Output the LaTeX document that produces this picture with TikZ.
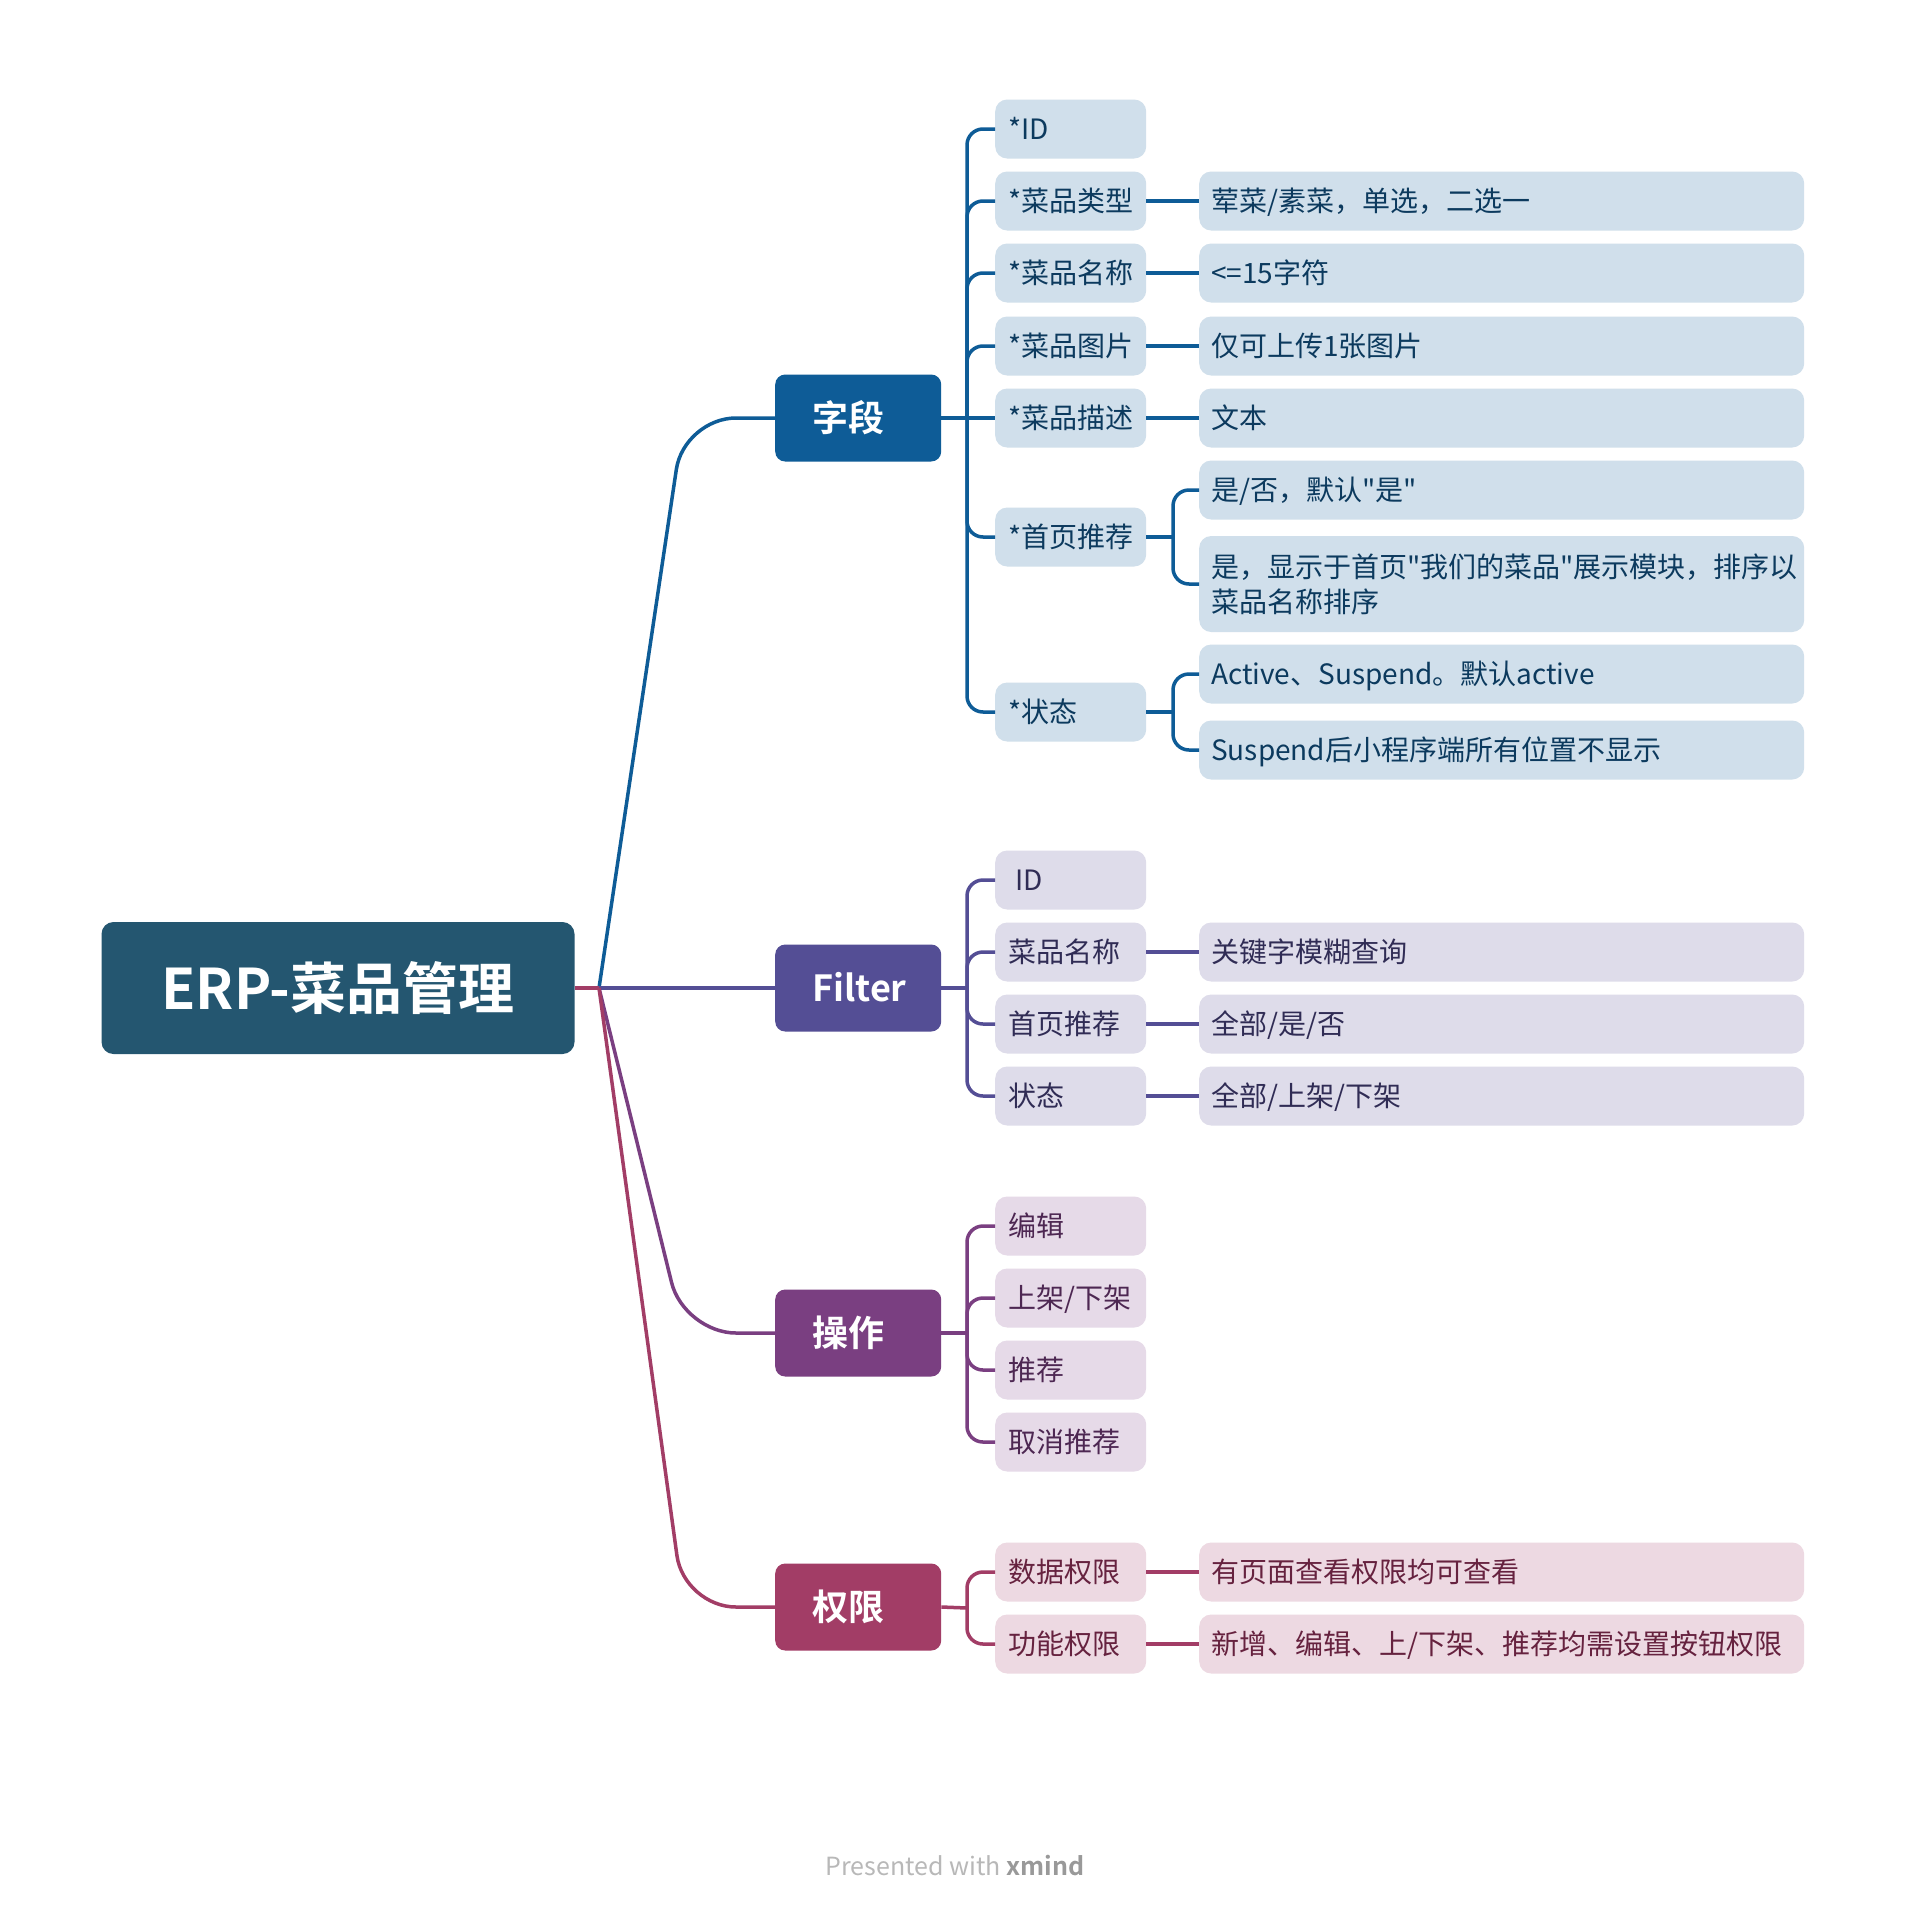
\documentclass[tikz,border=0pt]{standalone}
\usepackage{fontspec}
\setmainfont{Noto Sans CJK SC}[BoldFont={Noto Sans CJK SC Bold}]
\newfontfamily\plainqf{Noto Sans CJK SC}
\newcommand\sdq{{\plainqf\symbol{34}}}
\definecolor{rootc}{HTML}{245670}
\definecolor{ca}{HTML}{0E5C97}
\definecolor{cb}{HTML}{544E95}
\definecolor{cc}{HTML}{7A3F81}
\definecolor{cd}{HTML}{A23D66}
\definecolor{fa}{HTML}{D0DFEB}
\definecolor{fb}{HTML}{DEDCEA}
\definecolor{fc}{HTML}{E6DAE8}
\definecolor{fd}{HTML}{EDD9E2}
\definecolor{ta}{HTML}{0C3A5E}
\definecolor{tb}{HTML}{302C55}
\definecolor{tc}{HTML}{4D2752}
\definecolor{td}{HTML}{66223F}
\tikzset{
  rootbox/.style={fill=rootc, rounded corners=12pt, minimum width=473pt, minimum height=132pt,
    inner sep=0pt, text=white, font=\fontsize{56}{60}\selectfont\bfseries, text height=42.5pt, text depth=0pt},
  mainbox/.style={rounded corners=10pt, minimum height=87pt, minimum width=166pt, text width=92pt,
    inner xsep=37pt, inner ysep=0pt, align=left, anchor=west, text=white,
    font=\fontsize{36}{40}\selectfont\bfseries, text height=27pt, text depth=0pt},
  lvtwo/.style={rounded corners=12pt, minimum height=59pt, minimum width=151pt, text width=125pt,
    inner xsep=13pt, inner ysep=0pt, align=left, anchor=west,
    font=\fontsize{28}{35}\selectfont, text height=21pt, text depth=0pt},
  lvthree/.style={lvtwo, minimum width=605pt, text width=581pt, inner xsep=12pt},
  ga/.style={fill=fa, text=ta}, gb/.style={fill=fb, text=tb},
  gc/.style={fill=fc, text=tc}, gd/.style={fill=fd, text=td},
  conn/.style={line width=3.5pt},
}
\begin{document}
\begin{tikzpicture}[x=1pt,y=-1pt]
\useasboundingbox (0,0) rectangle (1906,1914);
\fill[white] (0,0) rectangle (1906,1914);

% root and main
\node[rootbox] (root) at (338,988) {ERP-菜品管理};
\node[mainbox, fill=ca] (A) at (775,418) {字段};
\node[mainbox, fill=cb] (B) at (775,988) {Filter};
\node[mainbox, fill=cc] (C) at (775,1333) {操作};
\node[mainbox, fill=cd] (D) at (775,1607) {权限};

% 字段 children
\node[lvtwo, ga] (A1) at (995,129) {*ID};
\node[lvtwo, ga] (A2) at (995,201) {*菜品类型};
\node[lvtwo, ga] (A3) at (995,273) {*菜品名称};
\node[lvtwo, ga] (A4) at (995,346) {*菜品图片};
\node[lvtwo, ga] (A5) at (995,418) {*菜品描述};
\node[lvtwo, ga] (A6) at (995,537) {*首页推荐};
\node[lvtwo, ga] (A7) at (995,712) {*状态};
\node[lvthree, ga] (A2x) at (1199,201) {荤菜/素菜，单选，二选一};
\node[lvthree, ga] (A3x) at (1199,273) {<=15字符};
\node[lvthree, ga] (A4x) at (1199,346) {仅可上传1张图片};
\node[lvthree, ga] (A5x) at (1199,418) {文本};
\node[lvthree, ga] (A6a) at (1199,490) {是/否，默认\sdq 是\sdq};
\node[lvthree, ga, text depth=35pt, minimum height=96pt] (A6b) at (1199,584) {是，显示于首页\sdq 我们的菜品\sdq 展示模块，排序以\\菜品名称排序};
\node[lvthree, ga] (A7a) at (1199,674) {Active、Suspend。默认active};
\node[lvthree, ga] (A7b) at (1199,750) {Suspend后小程序端所有位置不显示};

% Filter children
\node[lvtwo, gb] (B1) at (995,880) {\hspace*{7pt}ID};
\node[lvtwo, gb] (B2) at (995,952) {菜品名称};
\node[lvtwo, gb] (B3) at (995,1024) {首页推荐};
\node[lvtwo, gb] (B4) at (995,1096) {状态};
\node[lvthree, gb] (B2x) at (1199,952) {关键字模糊查询};
\node[lvthree, gb] (B3x) at (1199,1024) {全部/是/否};
\node[lvthree, gb] (B4x) at (1199,1096) {全部/上架/下架};

% 操作 children
\node[lvtwo, gc] (C1) at (995,1226) {编辑};
\node[lvtwo, gc] (C2) at (995,1298) {上架/下架};
\node[lvtwo, gc] (C3) at (995,1370) {推荐};
\node[lvtwo, gc] (C4) at (995,1442) {取消推荐};

% 权限 children
\node[lvtwo, gd] (D1) at (995,1572) {数据权限};
\node[lvtwo, gd] (D2) at (995,1644) {功能权限};
\node[lvthree, gd] (D1x) at (1199,1572) {有页面查看权限均可查看};
\node[lvthree, gd] (D2x) at (1199,1644) {新增、编辑、上/下架、推荐均需设置按钮权限};

% root to main connectors
\coordinate (rj) at (599,988);
\draw[conn, ca, rounded corners=52pt] (rj) -- (684,418) -- (A.west);
\draw[conn, cb] (rj) -- (B.west);
\draw[conn, cc, rounded corners=52pt] (rj) -- (684,1333) -- (C.west);
\draw[conn, cd, rounded corners=52pt] (rj) -- (684,1607) -- (D.west);
\draw[conn, cd] (root.east) -- (rj);

% 字段 connectors
\coordinate (At) at (967,418);
\draw[conn, ca] (A.east) -- (At);
\foreach \n in {A1,A2,A3,A4,A6,A7} \draw[conn, ca, rounded corners=16pt] (At) |- (\n.west);
\draw[conn, ca] (At) -- (A5.west);
\foreach \n in {A2,A3,A4,A5} \draw[conn, ca] (\n.east) -- (\n x.west);
\coordinate (A6t) at (1173,537);
\draw[conn, ca] (A6.east) -- (A6t);
\draw[conn, ca, rounded corners=16pt] (A6t) |- (A6a.west);
\draw[conn, ca, rounded corners=16pt] (A6t) |- (A6b.west);
\coordinate (A7t) at (1173,712);
\draw[conn, ca] (A7.east) -- (A7t);
\draw[conn, ca, rounded corners=16pt] (A7t) |- (A7a.west);
\draw[conn, ca, rounded corners=16pt] (A7t) |- (A7b.west);

% Filter connectors
\coordinate (Bt) at (967,988);
\draw[conn, cb] (B.east) -- (Bt);
\foreach \n in {B1,B2,B3,B4} \draw[conn, cb, rounded corners=16pt] (Bt) |- (\n.west);
\foreach \n in {B2,B3,B4} \draw[conn, cb] (\n.east) -- (\n x.west);

% 操作 connectors
\coordinate (Ct) at (967,1333);
\draw[conn, cc] (C.east) -- (Ct);
\foreach \n in {C1,C2,C3,C4} \draw[conn, cc, rounded corners=16pt] (Ct) |- (\n.west);

% 权限 connectors
\coordinate (Dt) at (967,1608);
\draw[conn, cd] (D.east) -- (Dt);
\foreach \n in {D1,D2} \draw[conn, cd, rounded corners=16pt] (Dt) |- (\n.west);
\foreach \n in {D1,D2} \draw[conn, cd] (\n.east) -- (\n x.west);

% footer
\node[font=\fontsize{25}{30}\selectfont, text=black!28] (foot) at (955,1866) {Presented with \textbf{\color{black!40}xmind}};
\end{tikzpicture}
\end{document}
